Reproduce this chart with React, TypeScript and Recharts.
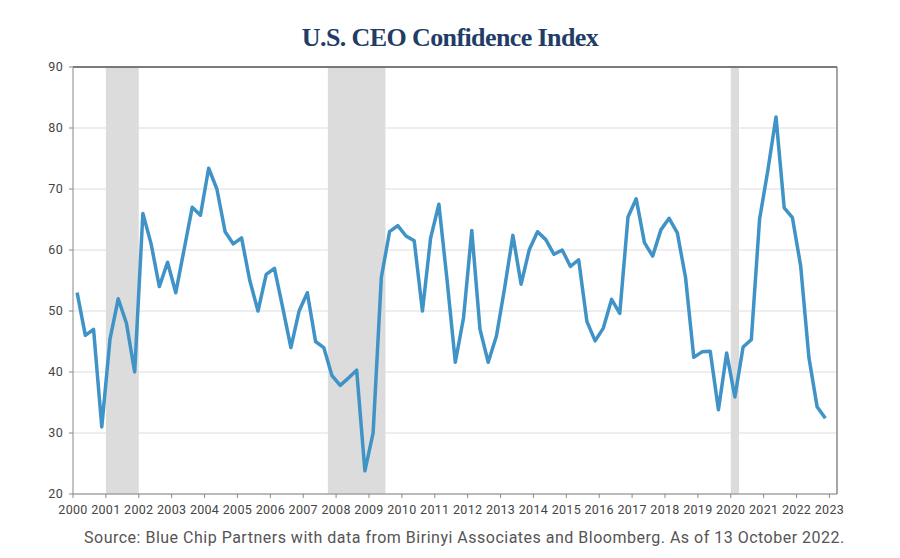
import { CartesianGrid, Line, LineChart, ReferenceArea, ReferenceLine, XAxis, YAxis } from "recharts";

const years = [
  2000, 2001, 2002, 2003, 2004, 2005, 2006, 2007, 2008, 2009, 2010, 2011,
  2012, 2013, 2014, 2015, 2016, 2017, 2018, 2019, 2020, 2021, 2022,
];

// quarterly readings, four per year (Q1..Q4)
const ceoIndex = [
  53, 46, 47, 31,
  45.4, 52, 48, 40,
  66, 61, 54, 58,
  53, 60, 67, 65.7,
  73.4, 70, 63, 61,
  62, 55, 50, 56,
  57, 50.6, 44, 50,
  53, 45, 44, 39.4,
  37.8, 39, 40.3, 23.8,
  30, 55.5, 63, 64,
  62.3, 61.5, 50, 62,
  67.5, 55, 41.6, 48.9,
  63.2, 47, 41.6, 45.9,
  53.8, 62.4, 54.4, 60.1,
  63, 61.7, 59.3, 60,
  57.3, 58.4, 48.3, 45.1,
  47.2, 51.9, 49.6, 65.4,
  68.4, 61.2, 59, 63.3,
  65.2, 62.8, 55.5, 42.4,
  43.3, 43.4, 33.8, 43.1,
  35.9, 44.1, 45.3, 65,
  73, 81.8, 66.9, 65.3,
  57.4, 42.4, 34.3, 32.4,
];

const quarterMid = [0.125, 0.375, 0.625, 0.875];

const recessions = [
  { start: 2001, end: 2002 },
  { start: 2007.75, end: 2009.5 },
  { start: 2020, end: 2020.25 },
];

const yTicks = [20, 30, 40, 50, 60, 70, 80, 90];
const xTicks = [...years, 2023];
const xMax = 2023.23;

const rows = ceoIndex.map((value, i) => ({
  t: years[Math.floor(i / 4)] + quarterMid[i % 4],
  value,
}));

const tickFont = { fontSize: 12.5, fill: "#444", fontFamily: "Roboto, sans-serif", letterSpacing: 0.3 };

export default function App() {
  return (
    <div style={{ position: "absolute", left: 0, top: 0, width: 900, height: 558, background: "#fff" }}>
      <div
        style={{
          position: "absolute",
          top: 23,
          left: 0,
          width: 900,
          textAlign: "center",
          fontFamily: "'Liberation Serif', 'DejaVu Serif', serif",
          fontWeight: 700,
          fontSize: 26,
          color: "#1f3d66",
          letterSpacing: -0.6,
        }}
      >
        U.S. CEO Confidence Index
      </div>
      <div style={{ position: "absolute", top: 0, left: 0 }}>
        <LineChart width={900} height={558} data={rows} margin={{ top: 67, right: 63, bottom: 34, left: 0 }}>
          <CartesianGrid vertical={false} stroke="#dedede" strokeWidth={1.2} />
          {recessions.map((r) => (
            <ReferenceArea key={r.start} x1={r.start} x2={r.end} y1={20} y2={90} fill="#dcdcdc" fillOpacity={1} stroke="none" ifOverflow="hidden" />
          ))}
          <XAxis
            dataKey="t"
            type="number"
            domain={[2000, xMax]}
            ticks={xTicks}
            interval={0}
            allowDataOverflow
            height={30}
            tickSize={4}
            tickMargin={7}
            stroke="#888"
            tick={tickFont}
          />
          <YAxis
            type="number"
            domain={[20, 90]}
            ticks={yTicks}
            interval={0}
            width={73}
            tickSize={4}
            tickMargin={6}
            stroke="#888"
            tick={tickFont}
          />
          <ReferenceLine y={90} stroke="#555" strokeWidth={1.5} />
          <ReferenceLine x={xMax} stroke="#888" strokeWidth={1.5} />
          <Line
            type="linear"
            dataKey="value"
            stroke="#3f93c6"
            strokeWidth={3.5}
            dot={false}
            strokeLinejoin="round"
            isAnimationActive={false}
          />
        </LineChart>
      </div>
      <div
        style={{
          position: "absolute",
          top: 528,
          left: 84,
          fontFamily: "Roboto, sans-serif",
          fontSize: 16,
          letterSpacing: 0.5,
          color: "#555",
          whiteSpace: "nowrap",
        }}
      >
        Source: Blue Chip Partners with data from Birinyi Associates and Bloomberg. As of 13 October 2022.
      </div>
    </div>
  );
}
